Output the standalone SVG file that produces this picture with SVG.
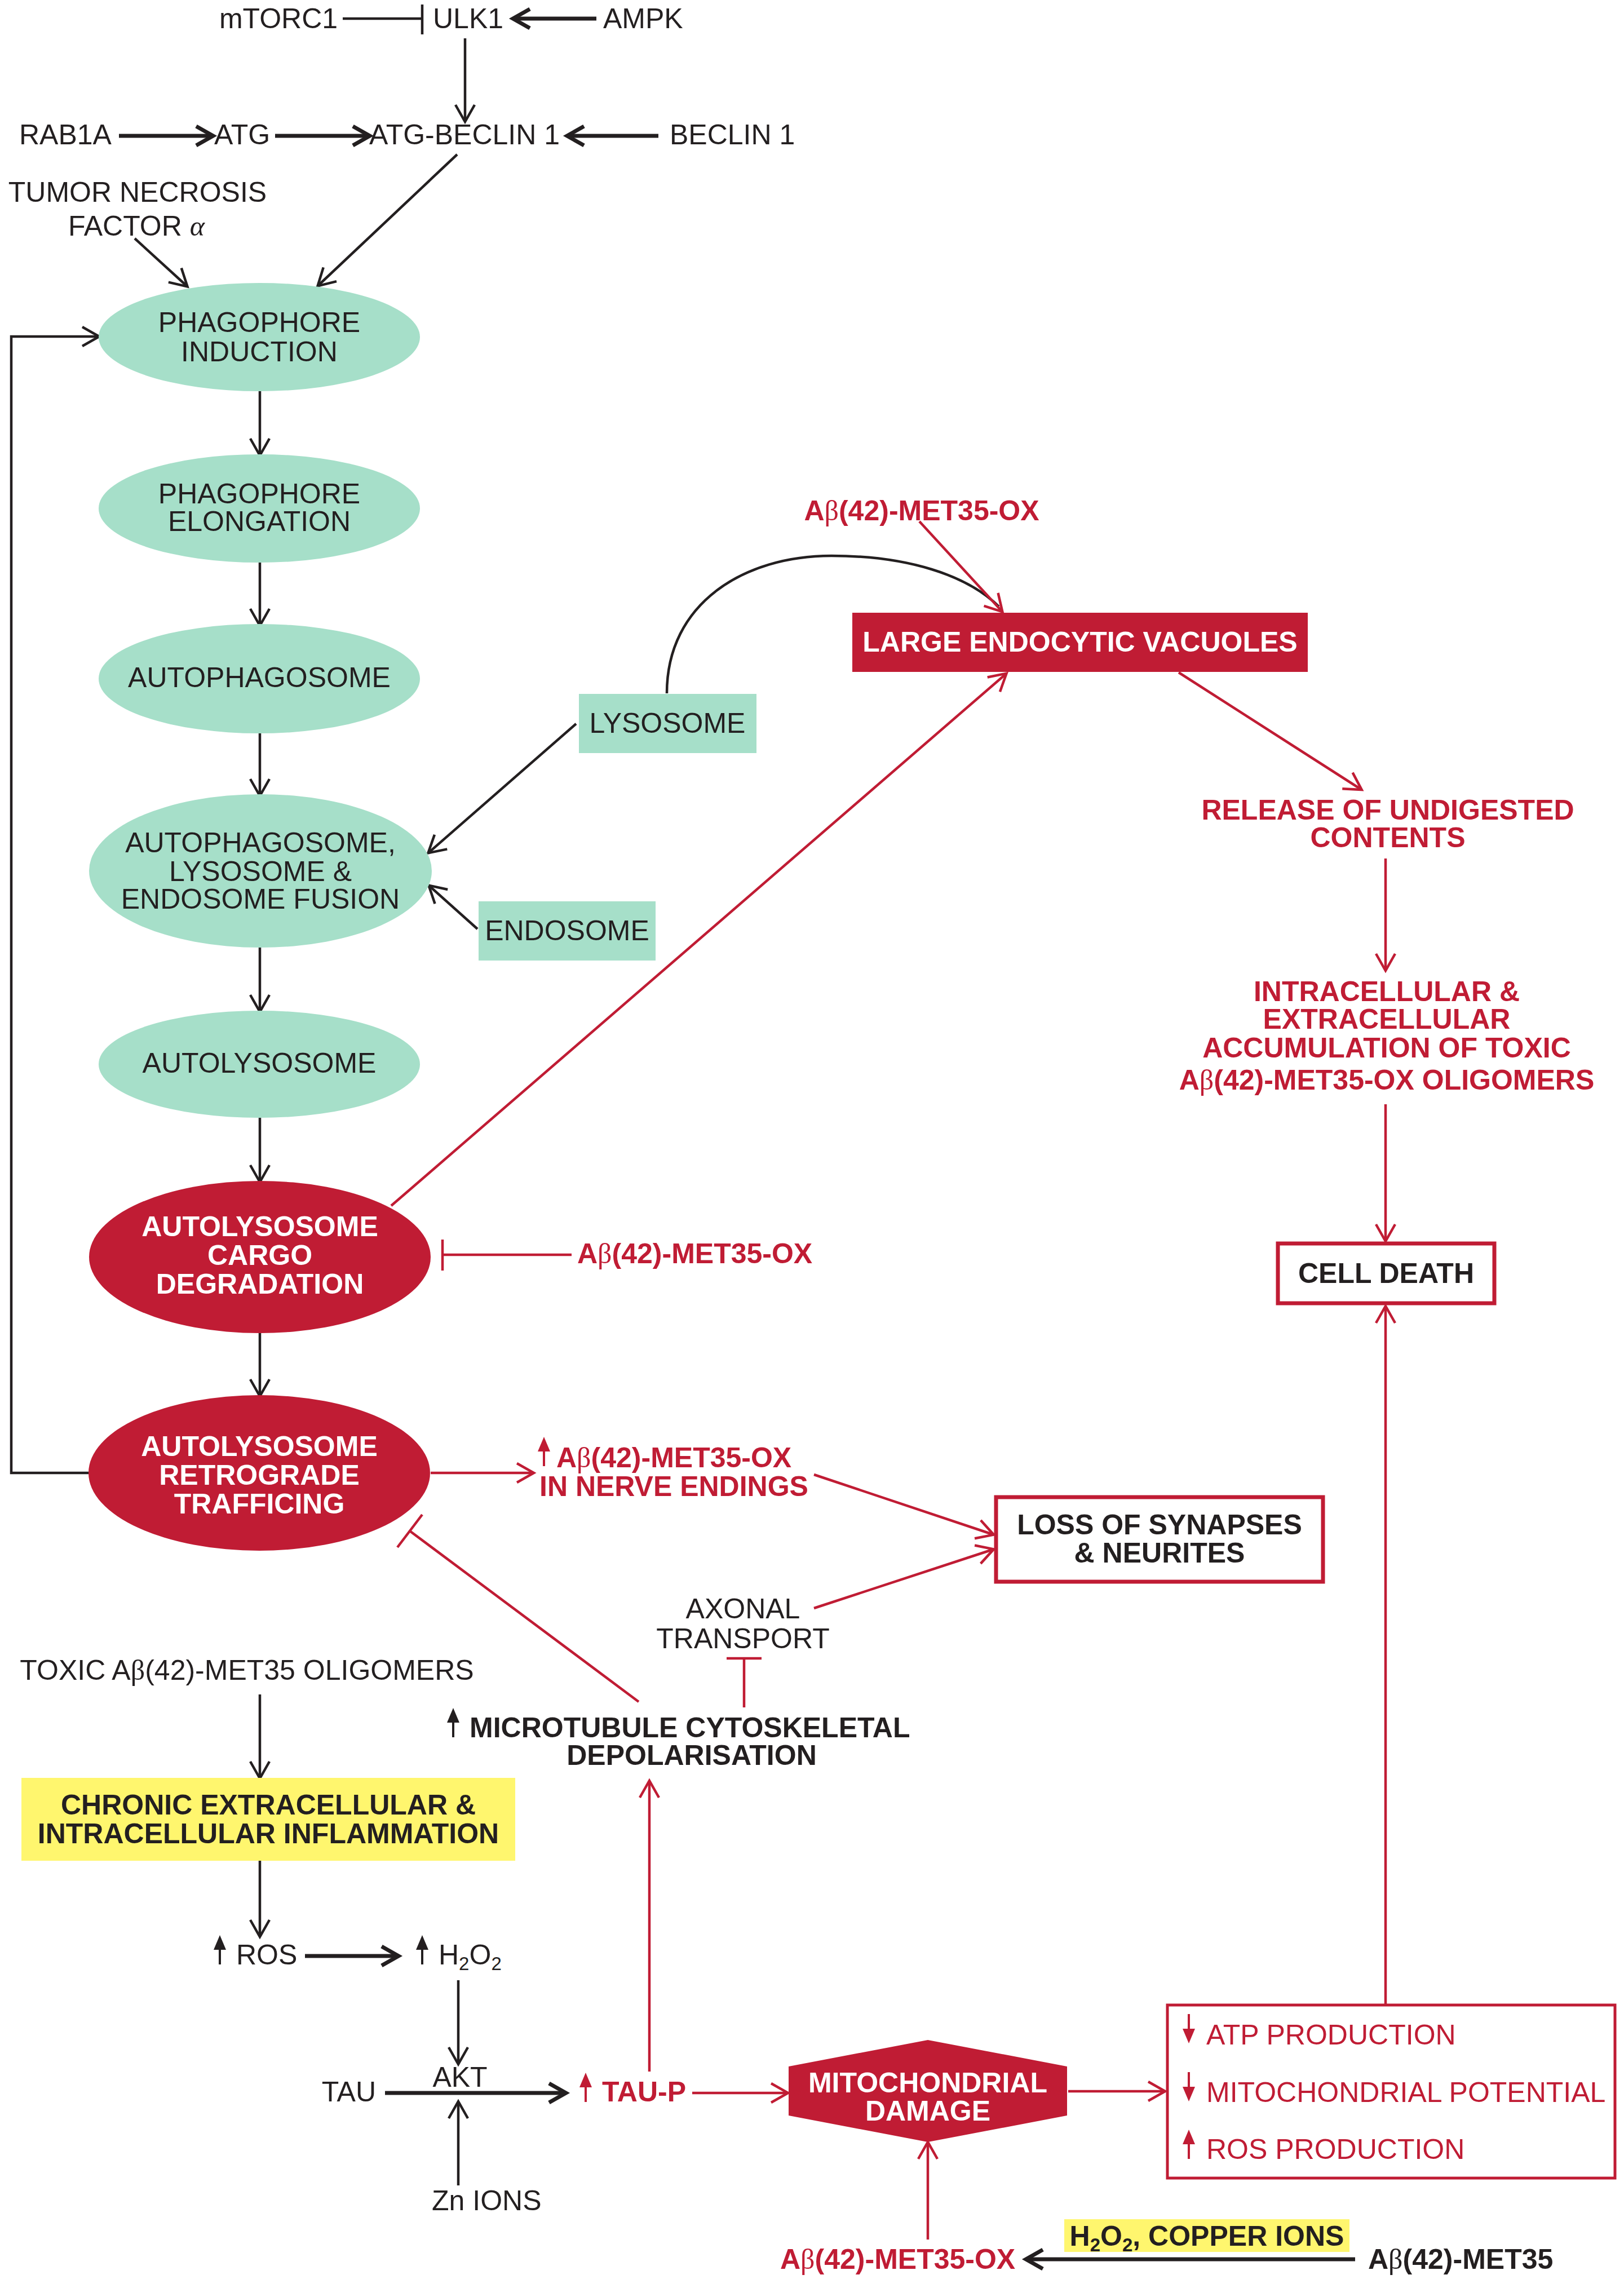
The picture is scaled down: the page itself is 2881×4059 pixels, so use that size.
<svg xmlns="http://www.w3.org/2000/svg" xmlns:xlink="http://www.w3.org/1999/xlink" width="2881" height="4059" viewBox="0 0 2881 4059">
<style>
.t{font-family:"Liberation Sans",Arial,sans-serif;font-size:50px;fill:#231f20}
.b{font-weight:bold}
.r{fill:#c01c34}
.w{fill:#ffffff}
.m{text-anchor:middle}
.e{text-anchor:end}
.g{font-family:"Liberation Serif","DejaVu Serif",serif;font-weight:normal}
.lk{stroke:#231f20;stroke-width:4.5;fill:none}
.lkt{stroke:#231f20;stroke-width:7;fill:none}
.lr{stroke:#c01c34;stroke-width:4.5;fill:none}
.green{fill:#a6dfc9}
.red{fill:#c01c34}
</style>
<defs>
<marker id="ak" markerUnits="userSpaceOnUse" markerWidth="44" markerHeight="44" viewBox="0 0 44 44" refX="36" refY="22" orient="auto"><path d="M8,5 L38,22 L8,39" fill="none" stroke="#231f20" stroke-width="4.5"/></marker>
<marker id="akt" markerUnits="userSpaceOnUse" markerWidth="48" markerHeight="48" viewBox="0 0 48 48" refX="38" refY="24" orient="auto"><path d="M10,7 L40,24 L10,41" fill="none" stroke="#231f20" stroke-width="7"/></marker>
<marker id="ar" markerUnits="userSpaceOnUse" markerWidth="44" markerHeight="44" viewBox="0 0 44 44" refX="36" refY="22" orient="auto"><path d="M8,5 L38,22 L8,39" fill="none" stroke="#c01c34" stroke-width="4.5"/></marker>
<g id="up"><path d="M0,0 L11,26 L-11,26 Z"/><rect x="-2" y="18" width="4" height="34"/></g>
<g id="down"><path d="M0,52 L11,26 L-11,26 Z"/><rect x="-2" y="0" width="4" height="34"/></g>
</defs>

<g id="connectors">
<line class="lk" x1="608" y1="33" x2="749" y2="33"/>
<line class="lk" x1="749" y1="8" x2="749" y2="61"/>
<line class="lkt" x1="1058" y1="33" x2="912" y2="33" marker-end="url(#akt)"/>
<line class="lk" x1="825" y1="68" x2="825" y2="214" marker-end="url(#ak)"/>
<line class="lkt" x1="211" y1="241" x2="376" y2="241" marker-end="url(#akt)"/>
<line class="lkt" x1="488" y1="241" x2="654" y2="241" marker-end="url(#akt)"/>
<line class="lkt" x1="1168" y1="241" x2="1008" y2="241" marker-end="url(#akt)"/>
<line class="lk" x1="239" y1="423" x2="331" y2="507" marker-end="url(#ak)"/>
<line class="lk" x1="811" y1="274" x2="565" y2="506" marker-end="url(#ak)"/>
<line class="lk" x1="461" y1="694" x2="461" y2="806" marker-end="url(#ak)"/>
<line class="lk" x1="461" y1="998" x2="461" y2="1108" marker-end="url(#ak)"/>
<line class="lk" x1="461" y1="1301" x2="461" y2="1410" marker-end="url(#ak)"/>
<line class="lk" x1="461" y1="1681" x2="461" y2="1793" marker-end="url(#ak)"/>
<line class="lk" x1="461" y1="1983" x2="461" y2="2095" marker-end="url(#ak)"/>
<line class="lk" x1="461" y1="2365" x2="461" y2="2475" marker-end="url(#ak)"/>
<path class="lk" d="M158,2613 L20,2613 L20,597 L174,597" marker-end="url(#ak)"/>
<line class="lk" x1="1022" y1="1284" x2="761" y2="1512" marker-end="url(#ak)"/>
<line class="lk" x1="847" y1="1648" x2="762" y2="1572" marker-end="url(#ak)"/>
<path class="lk" d="M1183,1230 C1183,1070 1320,986 1475,986 C1610,986 1715,1020 1772,1076"/>
<line class="lr" x1="1631" y1="925" x2="1777" y2="1084" marker-end="url(#ar)"/>
<line class="lr" x1="694" y1="2139" x2="1784" y2="1196" marker-end="url(#ar)"/>
<line class="lr" x1="2091" y1="1193" x2="2414" y2="1400" marker-end="url(#ar)"/>
<line class="lr" x1="2458" y1="1523" x2="2458" y2="1720" marker-end="url(#ar)"/>
<line class="lr" x1="2458" y1="1959" x2="2458" y2="2200" marker-end="url(#ar)"/>
<line class="lr" x1="2458" y1="3555" x2="2458" y2="2319" marker-end="url(#ar)"/>
<line class="lr" x1="1014" y1="2226" x2="785" y2="2226"/>
<line class="lr" x1="785" y1="2199" x2="785" y2="2254"/>
<line class="lr" x1="764" y1="2613" x2="945" y2="2613" marker-end="url(#ar)"/>
<line class="lr" x1="1444" y1="2616" x2="1761" y2="2722" marker-end="url(#ar)"/>
<line class="lr" x1="1444" y1="2853" x2="1761" y2="2749" marker-end="url(#ar)"/>
<line class="lr" x1="1133" y1="3019" x2="727" y2="2716"/>
<line class="lr" x1="749" y1="2687" x2="705" y2="2745"/>
<line class="lr" x1="1320" y1="3029" x2="1320" y2="2942"/>
<line class="lr" x1="1289" y1="2942" x2="1351" y2="2942"/>
<line class="lr" x1="1152" y1="3675" x2="1152" y2="3161" marker-end="url(#ar)"/>
<line class="lr" x1="1228" y1="3713" x2="1396" y2="3713" marker-end="url(#ar)"/>
<line class="lr" x1="1895" y1="3710" x2="2065" y2="3710" marker-end="url(#ar)"/>
<line class="lr" x1="1646" y1="3973" x2="1646" y2="3802" marker-end="url(#ar)"/>
<line class="lk" x1="461" y1="3006" x2="461" y2="3153" marker-end="url(#ak)"/>
<line class="lk" x1="461" y1="3301" x2="461" y2="3434" marker-end="url(#ak)"/>
<line class="lkt" x1="541" y1="3470" x2="705" y2="3470" marker-end="url(#akt)"/>
<line class="lk" x1="813" y1="3513" x2="813" y2="3660" marker-end="url(#ak)"/>
<line class="lk" x1="813" y1="3877" x2="813" y2="3730" marker-end="url(#ak)"/>
<line class="lkt" x1="683" y1="3713" x2="1002" y2="3713" marker-end="url(#akt)"/>
<line class="lkt" x1="2404" y1="4008" x2="1822" y2="4008" marker-end="url(#akt)"/>
</g>

<g id="top-labels">
<text class="t m" x="494" y="50">mTORC1</text>
<text class="t" x="768" y="50">ULK1</text>
<text class="t" x="1070" y="50">AMPK</text>
<text class="t" x="34" y="256">RAB1A</text>
<text class="t" x="380" y="256">ATG</text>
<text class="t" x="655" y="256">ATG-BECLIN 1</text>
<text class="t" x="1188" y="256">BECLIN 1</text>
<text class="t m" x="244" y="358">TUMOR NECROSIS</text>
<text class="t m" x="242" y="418">FACTOR <tspan class="g" font-style="italic">α</tspan></text>
</g>

<g id="phagophore-induction"><ellipse class="green" cx="460" cy="598" rx="285" ry="96"/><text class="t m" x="460" y="589">PHAGOPHORE</text><text class="t m" x="460" y="641">INDUCTION</text></g>
<g id="phagophore-elongation"><ellipse class="green" cx="460" cy="902" rx="285" ry="96"/><text class="t m" x="460" y="893">PHAGOPHORE</text><text class="t m" x="460" y="942">ELONGATION</text></g>
<g id="autophagosome"><ellipse class="green" cx="460" cy="1204" rx="285" ry="97"/><text class="t m" x="460" y="1219">AUTOPHAGOSOME</text></g>
<g id="fusion"><ellipse class="green" cx="462" cy="1545" rx="304" ry="136"/><text class="t m" x="462" y="1512">AUTOPHAGOSOME,</text><text class="t m" x="462" y="1563">LYSOSOME &amp;</text><text class="t m" x="462" y="1612">ENDOSOME FUSION</text></g>
<g id="lysosome"><rect class="green" x="1027" y="1231" width="315" height="105"/><text class="t m" x="1184" y="1300">LYSOSOME</text></g>
<g id="endosome"><rect class="green" x="849" y="1599" width="314" height="105"/><text class="t m" x="1006" y="1668">ENDOSOME</text></g>
<g id="autolysosome"><ellipse class="green" cx="460" cy="1888" rx="285" ry="95"/><text class="t m" x="460" y="1903">AUTOLYSOSOME</text></g>
<g id="cargo-degradation"><ellipse class="red" cx="461" cy="2230" rx="303" ry="135"/><text class="t b w m" x="461" y="2193">AUTOLYSOSOME</text><text class="t b w m" x="461" y="2244">CARGO</text><text class="t b w m" x="461" y="2295">DEGRADATION</text></g>
<g id="retrograde-trafficking"><ellipse class="red" cx="460" cy="2613" rx="303" ry="138"/><text class="t b w m" x="460" y="2583">AUTOLYSOSOME</text><text class="t b w m" x="460" y="2634">RETROGRADE</text><text class="t b w m" x="460" y="2685">TRAFFICING</text></g>

<g id="abox-top"><text class="t b r m" x="1635" y="923">A<tspan class="g">β</tspan>(42)-MET35-OX</text></g>
<g id="large-endocytic-vacuoles"><rect class="red" x="1512" y="1087" width="808" height="105"/><text class="t b w m" x="1916" y="1156">LARGE ENDOCYTIC VACUOLES</text></g>
<g id="release"><text class="t b r m" x="2462" y="1454">RELEASE OF UNDIGESTED</text><text class="t b r m" x="2462" y="1503">CONTENTS</text></g>
<g id="accumulation"><text class="t b r m" x="2460" y="1776">INTRACELLULAR &amp;</text><text class="t b r m" x="2460" y="1825">EXTRACELLULAR</text><text class="t b r m" x="2460" y="1876">ACCUMULATION OF TOXIC</text><text class="t b r m" x="2460" y="1933">A<tspan class="g">β</tspan>(42)-MET35-OX OLIGOMERS</text></g>
<g id="cell-death"><rect x="2267" y="2206" width="384" height="106" fill="#fff" stroke="#c01c34" stroke-width="7"/><text class="t b m" x="2459" y="2276">CELL DEATH</text></g>
<g id="abox-cargo"><text class="t b r" x="1024" y="2241">A<tspan class="g">β</tspan>(42)-MET35-OX</text></g>
<g id="nerve-endings"><use xlink:href="#up" x="965" y="2549" fill="#c01c34"/><text class="t b r" x="987" y="2603">A<tspan class="g">β</tspan>(42)-MET35-OX</text><text class="t b r" x="957" y="2654">IN NERVE ENDINGS</text></g>
<g id="loss-synapses"><rect x="1767" y="2656" width="580" height="150" fill="#fff" stroke="#c01c34" stroke-width="7"/><text class="t b m" x="2057" y="2722">LOSS OF SYNAPSES</text><text class="t b m" x="2057" y="2772">&amp; NEURITES</text></g>
<g id="axonal-transport"><text class="t m" x="1318" y="2871">AXONAL</text><text class="t m" x="1318" y="2924">TRANSPORT</text></g>
<g id="toxic-oligomers"><text class="t m" x="438" y="2980">TOXIC A<tspan class="g">β</tspan>(42)-MET35 OLIGOMERS</text></g>
<g id="microtubule"><use xlink:href="#up" x="804" y="3030" fill="#231f20"/><text class="t b" x="833" y="3082">MICROTUBULE CYTOSKELETAL</text><text class="t b m" x="1227" y="3131">DEPOLARISATION</text></g>
<g id="inflammation"><rect x="38" y="3154" width="876" height="147" fill="#fff66e"/><text class="t b m" x="476" y="3219">CHRONIC EXTRACELLULAR &amp;</text><text class="t b m" x="476" y="3270">INTRACELLULAR INFLAMMATION</text></g>
<g id="ros"><use xlink:href="#up" x="390" y="3433" fill="#231f20"/><text class="t" x="419" y="3485">ROS</text></g>
<g id="h2o2"><use xlink:href="#up" x="749" y="3433" fill="#231f20"/><text class="t" x="778" y="3485">H<tspan font-size="33" dy="10">2</tspan><tspan dy="-10">O</tspan><tspan font-size="33" dy="10">2</tspan></text></g>
<g id="akt"><text class="t m" x="816" y="3702">AKT</text></g>
<g id="tau"><text class="t e" x="667" y="3728">TAU</text></g>
<g id="zn"><text class="t" x="766" y="3921">Zn IONS</text></g>
<g id="tau-p"><use xlink:href="#up" x="1039" y="3677" fill="#c01c34"/><text class="t b r" x="1068" y="3728">TAU-P</text></g>
<g id="mito-damage"><polygon class="red" points="1646,3619 1893,3666 1893,3753 1646,3800 1399,3753 1399,3666"/><text class="t b w m" x="1646" y="3712">MITOCHONDRIAL</text><text class="t b w m" x="1646" y="3762">DAMAGE</text></g>
<g id="mito-effects"><rect x="2071" y="3557" width="794" height="307" fill="#fff" stroke="#c01c34" stroke-width="5"/>
<use xlink:href="#down" x="2109" y="3573" fill="#c01c34"/><text class="t r" x="2140" y="3627">ATP PRODUCTION</text>
<use xlink:href="#down" x="2109" y="3676" fill="#c01c34"/><text class="t r" x="2140" y="3729">MITOCHONDRIAL POTENTIAL</text>
<use xlink:href="#up" x="2109" y="3778" fill="#c01c34"/><text class="t r" x="2140" y="3830">ROS PRODUCTION</text></g>
<g id="abox-bottom"><text class="t b r" x="1384" y="4025">A<tspan class="g">β</tspan>(42)-MET35-OX</text></g>
<g id="copper"><rect x="1888" y="3937" width="506" height="58" fill="#fff66e"/><text class="t b m" x="2141" y="3984">H<tspan font-size="33" dy="10">2</tspan><tspan dy="-10">O</tspan><tspan font-size="33" dy="10">2</tspan><tspan dy="-10">, COPPER IONS</tspan></text></g>
<g id="abeta-met35"><text class="t b" x="2427" y="4025">A<tspan class="g">β</tspan>(42)-MET35</text></g>
</svg>
